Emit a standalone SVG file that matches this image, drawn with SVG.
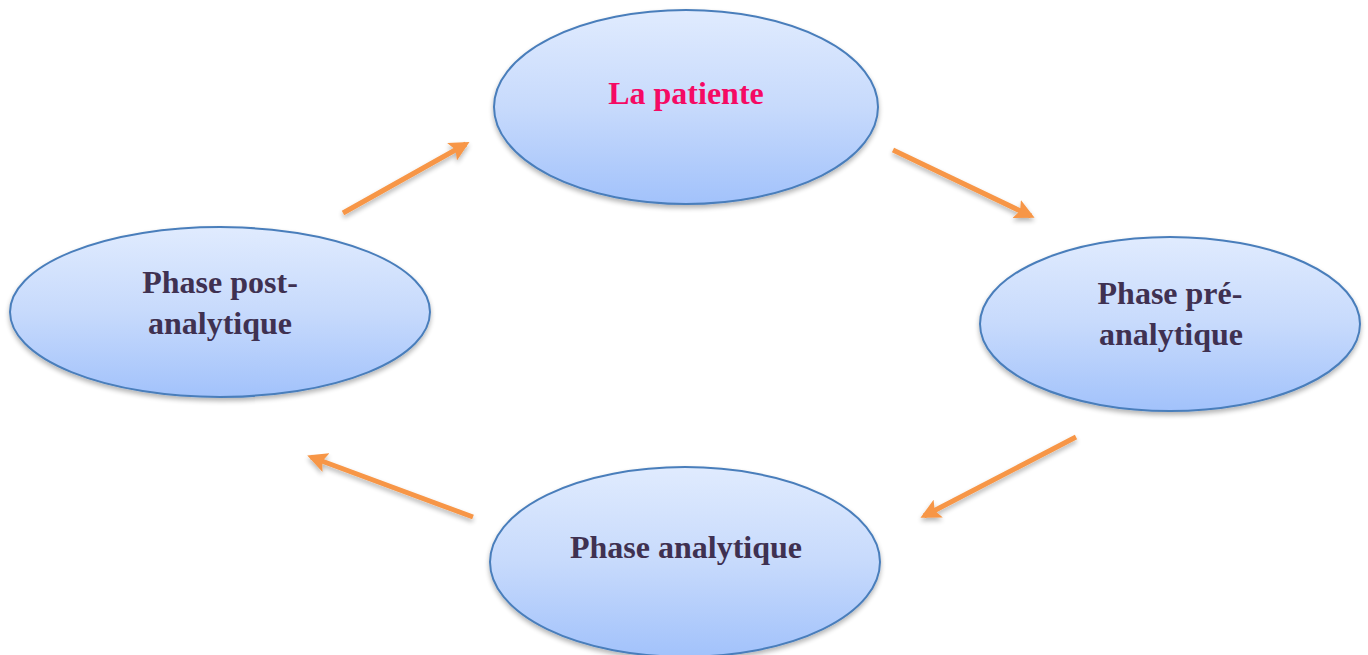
<svg xmlns="http://www.w3.org/2000/svg" width="1368" height="655" viewBox="0 0 1368 655">
<defs>
<linearGradient id="g" x1="0" y1="0" x2="0" y2="1">
<stop offset="0" stop-color="#e0ebfe"/>
<stop offset="0.5" stop-color="#c7dafc"/>
<stop offset="1" stop-color="#a2c2fb"/>
</linearGradient>
<filter id="sh" x="-10%" y="-10%" width="120%" height="130%">
<feGaussianBlur in="SourceAlpha" stdDeviation="2.5"/>
<feOffset dx="0" dy="3" result="b"/>
<feComponentTransfer><feFuncA type="linear" slope="0.3"/></feComponentTransfer>
<feMerge><feMergeNode/><feMergeNode in="SourceGraphic"/></feMerge>
</filter>
<marker id="ah" viewBox="0 0 10 10" refX="8" refY="5" markerWidth="4" markerHeight="4" orient="auto" markerUnits="strokeWidth">
<path d="M0,0 L10,5 L0,10 L2,5 z" fill="#f79646"/>
</marker>
<style>
.node ellipse{fill:url(#g);stroke:#4a7ebb;stroke-width:2;filter:url(#sh)}
.node text{font-family:"Liberation Serif","Times New Roman",serif;font-weight:bold;font-size:32px;text-anchor:middle;fill:#3f3151}
#n-patiente text{fill:#f50a64}
.conn line{stroke:#f79646;stroke-width:5;marker-end:url(#ah);filter:url(#sh)}
</style>
</defs>
<rect width="1368" height="655" fill="#ffffff"/>
<g id="n-patiente" class="node">
<ellipse cx="686" cy="107" rx="192" ry="97"/>
<text x="686" y="104">La patiente</text>
</g>
<g id="n-pre" class="node">
<ellipse cx="1170" cy="324" rx="190" ry="87"/>
<text x="1170" y="304">Phase pré-</text>
<text x="1171" y="345">analytique</text>
</g>
<g id="n-analytique" class="node">
<ellipse cx="685" cy="562" rx="195" ry="95"/>
<text x="686" y="558">Phase analytique</text>
</g>
<g id="n-post" class="node">
<ellipse cx="220" cy="312" rx="210" ry="85"/>
<text x="220" y="293">Phase post-</text>
<text x="220" y="334">analytique</text>
</g>
<g id="connectors" class="conn">
<line x1="343" y1="213" x2="466" y2="144"/>
<line x1="893" y1="150" x2="1031" y2="216"/>
<line x1="1076" y1="437" x2="924" y2="516"/>
<line x1="473" y1="517" x2="311" y2="457"/>
</g>
</svg>
